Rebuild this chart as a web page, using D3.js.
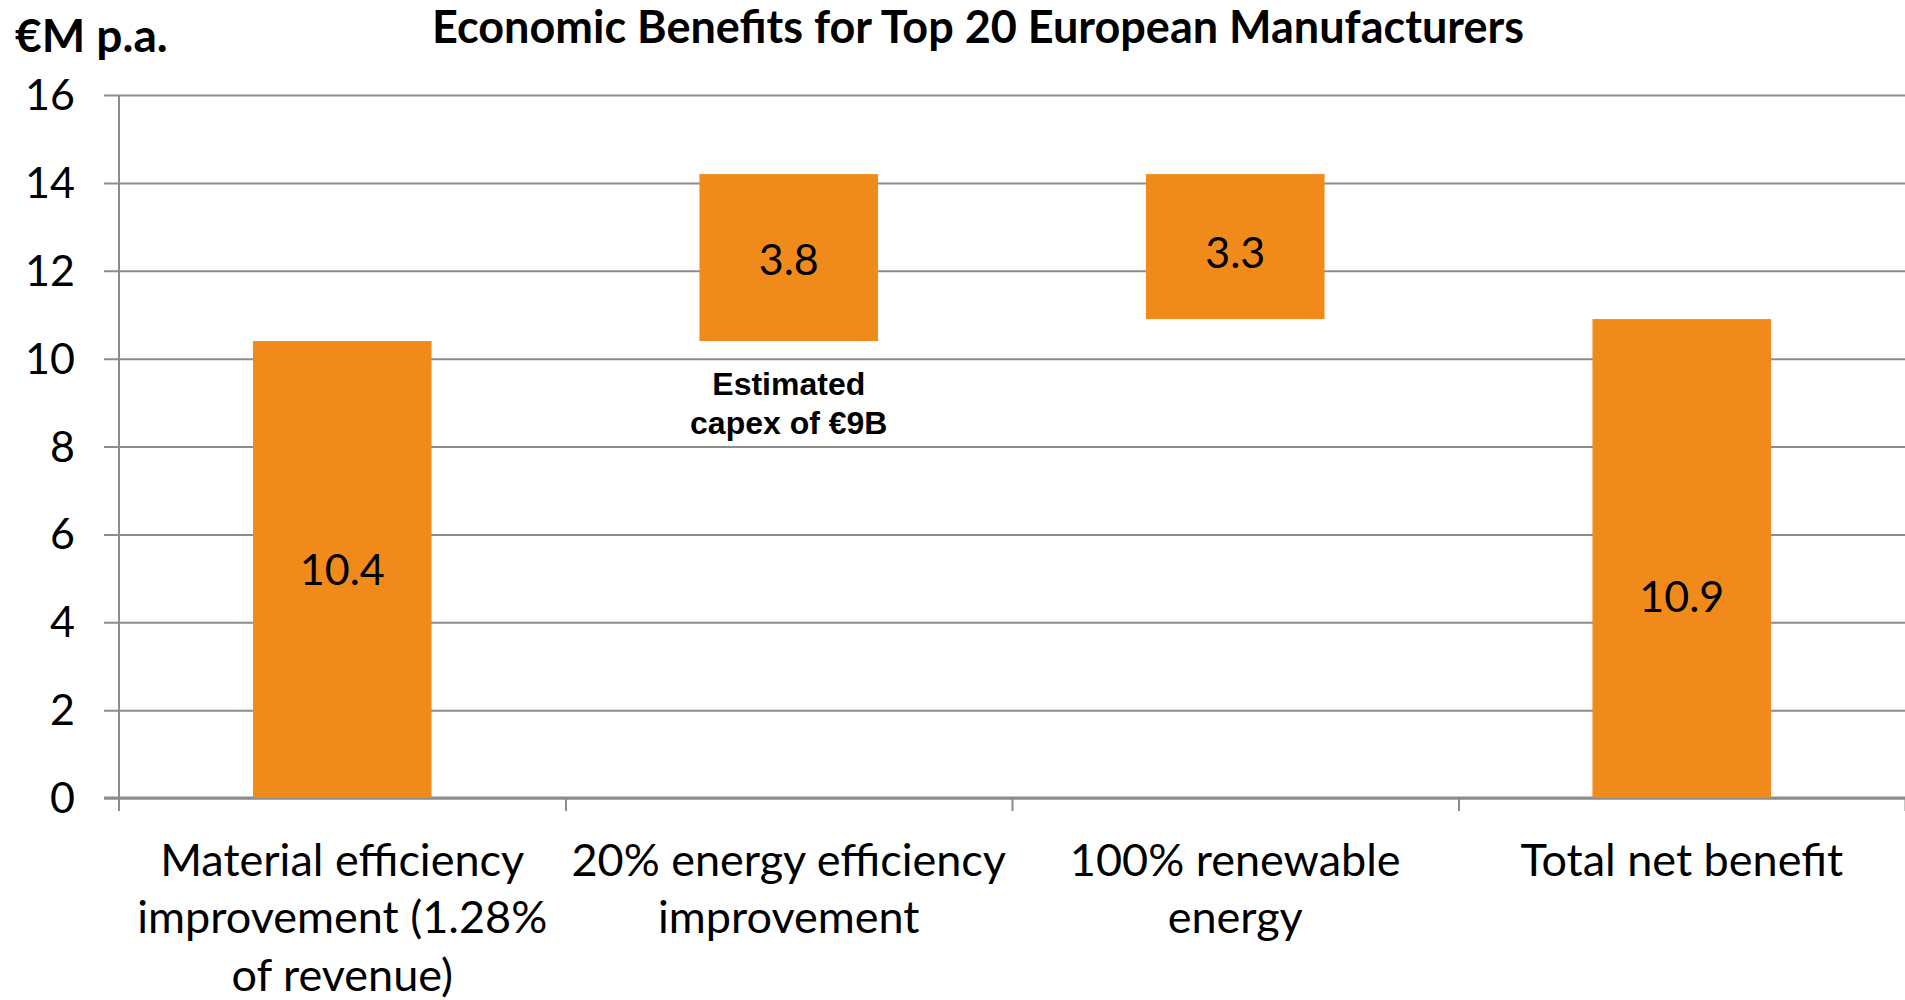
<!DOCTYPE html>
<html>
<head>
<meta charset="utf-8">
<script src="https://cdn.jsdelivr.net/npm/d3@7"></script>
<style>
  html, body { margin: 0; padding: 0; background: #fff; }
  svg { display: block; }
  text { font-family: Lato, "Open Sans", sans-serif; fill: #000; }
</style>
</head>
<body>
<svg id="chart" width="1905" height="1000"></svg>
<script>
// Waterfall steps (€M p.a.)
const categories = [
  ["Material efficiency", "improvement (1.28%", "of revenue)"],
  ["20% energy efficiency", "improvement"],
  ["100% renewable", "energy"],
  ["Total net benefit"]
];
const bases  = [0, 10.4, 10.9, 0];
const values = [10.4, 3.8, 3.3, 10.9];
const yTicks = [0, 2, 4, 6, 8, 10, 12, 14, 16];
const titleText = "Economic Benefits for Top 20 European Manufacturers";
const unitText = "€M p.a.";
const noteLines = ["Estimated", "capex of €9B"];

const W = 1905, H = 1000;
const margin = { top: 95, right: 0, bottom: 202, left: 119 };
const innerW = W - margin.left - margin.right;
const innerH = H - margin.top - margin.bottom;

const svg = d3.select("#chart");
const g = svg.append("g").attr("transform", `translate(${margin.left},${margin.top})`);

const x = d3.scaleBand().domain(d3.range(categories.length)).range([0, innerW]).paddingInner(0.6).paddingOuter(0.3);
const xEdge = d3.scaleLinear().domain([0, categories.length]).range([0, innerW]);
const y = d3.scaleLinear().domain([0, 16]).range([innerH, 0]);

const gridColor = "#8c8c8c";

// horizontal gridlines with short outer ticks
const yAxis = g.append("g")
  .call(d3.axisLeft(y).tickValues(yTicks).tickSizeInner(-innerW).tickSizeOuter(0).tickPadding(0).tickFormat(""));
yAxis.select(".domain").remove();
yAxis.selectAll(".tick line").attr("stroke", gridColor).attr("stroke-width", 2).attr("x1", -15);

// y tick labels
g.append("g").selectAll("text").data(yTicks).join("text")
  .attr("x", -44).attr("y", d => y(d)).attr("dy", "0.35em")
  .attr("text-anchor", "end").attr("font-size", 43)
  .text(d => d);

// vertical axis line
g.append("line").attr("x1", 0).attr("x2", 0).attr("y1", 0).attr("y2", innerH + 13)
  .attr("stroke", gridColor).attr("stroke-width", 2);

// category axis with ticks on band edges
const xAxis = g.append("g").attr("transform", `translate(0,${innerH})`)
  .call(d3.axisBottom(xEdge).tickValues(d3.range(1, categories.length + 1)).tickSizeInner(13).tickSizeOuter(0).tickFormat(""));
xAxis.select(".domain").attr("stroke", gridColor).attr("stroke-width", 3).attr("d", `M-15,0H${innerW}`);
xAxis.selectAll(".tick line").attr("stroke", gridColor).attr("stroke-width", 2);

// bars
g.append("g").selectAll("rect").data(values).join("rect")
  .attr("x", (d, i) => x(i))
  .attr("width", x.bandwidth())
  .attr("y", (d, i) => y(bases[i] + d))
  .attr("height", (d, i) => y(bases[i]) - y(bases[i] + d))
  .attr("fill", "#f08a1a");

// value labels, centred in each bar (small nudges for the last two)
const labelNudge = [0, 2, 6, 38];
g.append("g").selectAll("text").data(values).join("text")
  .attr("x", (d, i) => x(i) + x.bandwidth() / 2)
  .attr("y", (d, i) => (y(bases[i]) + y(bases[i] + d)) / 2 + labelNudge[i])
  .attr("dy", "0.35em")
  .attr("text-anchor", "middle").attr("font-size", 43)
  .text(d => d.toFixed(1));

// category labels
const catG = g.append("g").attr("transform", `translate(0,${innerH})`);
categories.forEach((lines, i) => {
  const t = catG.append("text")
    .attr("x", x(i) + x.bandwidth() / 2)
    .attr("y", 62).attr("dy", "0.35em")
    .attr("text-anchor", "middle").attr("font-size", 45);
  lines.forEach((ln, j) => {
    t.append("tspan").attr("x", x(i) + x.bandwidth() / 2).attr("dy", j === 0 ? "0.35em" : 57.5).text(ln);
  });
});

// capex note under the energy-efficiency step
const note = g.append("text")
  .attr("x", x(1) + x.bandwidth() / 2)
  .attr("y", y(bases[1]) + 54)
  .attr("text-anchor", "middle").attr("font-size", 32).attr("font-weight", "bold")
  .style("font-family", "'Liberation Sans', Arial, sans-serif");
noteLines.forEach((ln, j) => {
  note.append("tspan").attr("x", x(1) + x.bandwidth() / 2).attr("dy", j === 0 ? 0 : 39).text(ln);
});

// title and unit
svg.append("text").attr("x", 978).attr("y", 43).attr("text-anchor", "middle")
  .attr("font-size", 45).attr("font-weight", "bold").text(titleText);
svg.append("text").attr("x", 15).attr("y", 52)
  .attr("font-size", 46).attr("font-weight", "bold").text(unitText);
</script>
</body>
</html>
